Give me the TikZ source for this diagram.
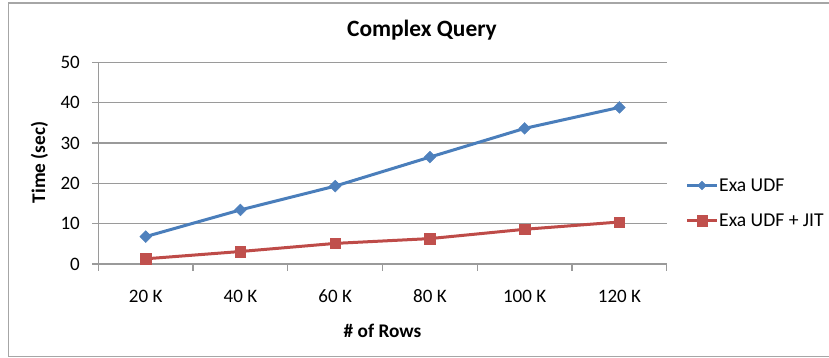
\documentclass[tikz,border=0pt]{standalone}
\usepackage{fontspec}
\setmainfont{Carlito}
\usetikzlibrary{shapes.geometric}
\definecolor{serblue}{HTML}{4A7EBB}
\definecolor{mkblue}{HTML}{4F81BD}
\definecolor{serred}{HTML}{BE4B48}
\definecolor{mkred}{HTML}{C0504D}
\definecolor{gridgray}{HTML}{9A9A9A}
\definecolor{framegray}{HTML}{A6A6A6}
\begin{document}
\begin{tikzpicture}[x=1pt,y=-1pt,
  gridline/.style={draw=gridgray, line width=1.2pt},
  axisline/.style={draw=gridgray, line width=1.2pt},
  blueline/.style={draw=serblue, line width=3pt, line join=round},
  redline/.style={draw=serred, line width=3pt, line join=round},
  bluemark/.style={diamond, fill=mkblue, draw=mkblue, inner sep=0pt, minimum size=12pt},
  redmark/.style={rectangle, fill=mkred, draw=mkred, inner sep=0pt, minimum size=10.5pt},
  ticklab/.style={font=\fontsize{19}{21}\selectfont, inner sep=0pt},
  axtitle/.style={font=\fontsize{19.3}{21}\selectfont\bfseries, inner sep=0pt},
  legtext/.style={font=\fontsize{19.6}{21}\selectfont, inner sep=0pt, anchor=west}]
\useasboundingbox (0,0) rectangle (829,358);
% chart frame
\draw[framegray, line width=1.2pt] (830,3) -- (8.5,3) -- (8.5,356.5) -- (830,356.5);
% title
\node[font=\fontsize{23.4}{25}\selectfont\bfseries, inner sep=0pt] (title) at (422,30) {Complex Query};
% gridlines and y labels
\foreach \v/\y in {10/223.7,20/183.4,30/143,40/102.6,50/62.3}{
  \draw[gridline] (92,\y) -- (666.7,\y);
}
\foreach \v/\y in {0/264,10/223.7,20/183.4,30/143,40/102.6,50/62.3}{
  \node[ticklab, anchor=east] (yl\v) at (80,\y) {\v};
}
% axes
\draw[axisline] (98.3,62.3) -- (98.3,264);
\draw[axisline] (92,264) -- (666.7,264);
\draw[axisline] (92,62.3) -- (98.3,62.3);
\foreach \x in {98.3,193,287.8,382.5,477.2,572,666.7}{
  \draw[axisline] (\x,264) -- (\x,270.5);
}
% x labels
\foreach \i/\x/\t in {1/145.7/20 K,2/240.4/40 K,3/335.2/60 K,4/429.9/80 K,5/524.6/100 K,6/619.4/120 K}{
  \node[ticklab] (xl\i) at (\x,296.5) {\t};
}
% axis titles
\node[axtitle] (xt) at (382.5,330.5) {\# of Rows};
\node[axtitle, rotate=90] (yt) at (39.5,162.5) {Time (sec)};
% data coordinates
\foreach \i/\x/\b/\r in {1/145.7/236.6/258.8,2/240.4/209.9/251.5,3/335.2/186.1/243.4,4/429.9/157.1/238.6,5/524.6/128.4/229.3,6/619.4/107.4/222.0}{
  \coordinate (b\i) at (\x,\b);
  \coordinate (r\i) at (\x,\r);
}
\draw[blueline] (b1) -- (b2) -- (b3) -- (b4) -- (b5) -- (b6);
\draw[redline] (r1) -- (r2) -- (r3) -- (r4) -- (r5) -- (r6);
\foreach \i in {1,...,6}{
  \node[bluemark] (mb\i) at (b\i) {};
  \node[redmark] (mr\i) at (r\i) {};
}
% legend
\coordinate (lb1) at (687,185.5);
\coordinate (lb2) at (717,185.5);
\coordinate (lr1) at (687,220.5);
\coordinate (lr2) at (717,220.5);
\draw[blueline] (lb1) -- (lb2);
\node[bluemark, minimum size=9pt] (lbm) at (702,185.5) {};
\node[legtext] (lbt) at (719,185.5) {Exa UDF};
\draw[redline] (lr1) -- (lr2);
\node[redmark] (lrm) at (702,220.5) {};
\node[legtext] (lrt) at (719,220.5) {Exa UDF + JIT};
\end{tikzpicture}
\end{document}
